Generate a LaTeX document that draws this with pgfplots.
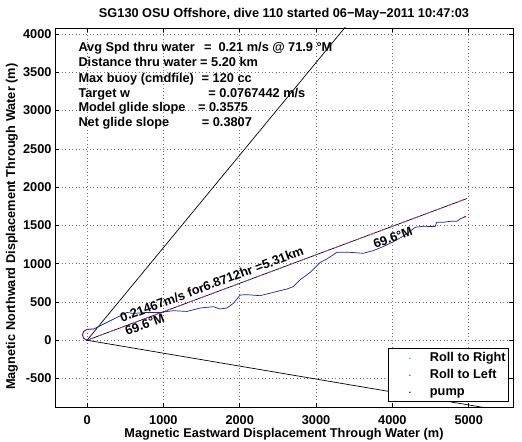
\documentclass[border=0pt]{standalone}
\usepackage{pgfplots}
\pgfplotsset{compat=1.18}
\usepackage{fontspec}
\setmainfont{Liberation Sans}
\definecolor{trackblue}{RGB}{25,35,160}
\definecolor{mag}{RGB}{205,50,205}
\definecolor{loopc}{RGB}{120,20,140}
\newcommand{\ff}{\fontsize{12.8}{15}\selectfont\bfseries}
\begin{document}
\begin{tikzpicture}
\begin{axis}[
  scale only axis, width=458bp, height=379bp,
  xmin=-420, xmax=5580, ymin=-872, ymax=4078,
  xtick={0,1000,2000,3000,4000,5000},
  ytick={-500,0,500,1000,1500,2000,2500,3000,3500,4000},
  grid=major,
  major grid style={black!55, line width=0.5bp, dash pattern=on 0.7bp off 2.8bp},
  tick align=inside, tick pos=both, major tick length=4.5bp,
  axis line style={line width=0.8bp},
  every tick/.style={black, line width=0.6bp},
  font=\ff,
  tick label style={font=\ff},
  xticklabel style={yshift=-5bp},
  /pgf/number format/assume math mode=true,
  /pgf/number format/1000 sep={},
  title={SG130 OSU Offshore, dive 110 started 06−May−2011 10:47:03},
  every axis title/.style={at={(axis description cs:0.5,1)}, anchor=base, yshift=10.5bp, font=\ff},
  xlabel={Magnetic Eastward Displacement Through Water (m)},
  xlabel style={at={(axis description cs:0.5,0)}, anchor=base, yshift=-30bp, font=\ff},
  ylabel={Magnetic Northward Displacement Through Water (m)},
  ylabel style={at={(axis description cs:-0.0873,0.4757)}, anchor=base, font=\ff},
  legend style={at={(axis description cs:0.9913,0.0132)}, anchor=south east,
    font=\ff, draw=black, line width=0.6bp, row sep=4.5bp, inner xsep=3bp, inner ysep=3.2bp,
    nodes={inner sep=0bp, text height=9.5bp, text depth=3bp}},
  legend image code/.code={\path[draw=none, fill=none] (0bp,0bp) -- (39bp,0bp);
     \path[draw=none, fill=#1] (19bp,0bp) circle[radius=0.75bp];},
  legend cell align=left,
]
\addlegendimage{green!80!black}
\addlegendimage{red}
\addlegendimage{black}
\addplot[black, line width=0.7bp, forget plot] coordinates {(0,0) (3824,4623)};
\addplot[black, line width=0.7bp, forget plot] coordinates {(0,0) (5916,-1000)};
\addplot[black, line width=0.7bp, forget plot] coordinates {(0,0) (4977,1851)};
\addplot[mag, line width=0.7bp, dash pattern=on 6bp off 6bp, forget plot] coordinates {(0,0) (4977,1851)};
\addplot[loopc, line width=1bp, forget plot] coordinates {
 (0,0) (-45,25) (-60,70) (-45,115) (-5,140) (40,145) (86,146)};
\addplot[trackblue, line width=0.7bp, forget plot] coordinates {
 (86,146) (174,190) (305,255) (436,320) (524,363) (606,350) (785,363) (960,363)
 (1130,386) (1309,376) (1483,421) (1653,438) (1745,408) (1832,421) (1915,481)
 (2007,591) (2094,595) (2267,582) (2439,625) (2618,669) (2700,699) (2792,790)
 (2923,886) (3054,1017) (3141,1061) (3272,1148) (3446,1148) (3617,1135)
 (3747,1170) (3878,1222) (4058,1310) (4188,1388) (4297,1475) (4402,1488)
 (4559,1484) (4581,1540) (4664,1540) (4755,1553) (4843,1553) (4886,1584) (4952,1614)};
\addplot[only marks, mark=*, mark size=0.7bp, red, forget plot] coordinates {(4952,1614)};
\addplot[only marks, mark=*, mark size=0.5bp, black, forget plot] coordinates {(0,0)};
\legend{Roll to Right, Roll to Left, pump}
% rotated annotations
\node[anchor=base west, inner sep=0, rotate=20.4, font=\ff] at (axis cs:458,233) {0.21467m/s for6.8712hr =5.31km};
\node[anchor=base west, inner sep=0, rotate=20.4, font=\ff] at (axis cs:524,59) {69.6°M};
\node[anchor=base west, inner sep=0, rotate=20.4, font=\ff] at (axis cs:3774,1192) {69.6°M};
% stats text
\node[anchor=base west, inner sep=0, font=\ff] at (axis description cs:0.0509,0.9385) {Avg Spd thru water};
\node[anchor=base west, inner sep=0, font=\ff] at (axis description cs:0.3253,0.9385) {=};
\node[anchor=base west, inner sep=0, font=\ff] at (axis description cs:0.3566,0.9385) {0.21 m/s @};
\node[anchor=base west, inner sep=0, font=\ff] at (axis description cs:0.5087,0.9385) {71.9 °M};
\node[anchor=base west, inner sep=0, font=\ff] at (axis description cs:0.0509,0.8989) {Distance thru water};
\node[anchor=base west, inner sep=0, font=\ff] at (axis description cs:0.3166,0.8989) {= 5.20 km};
\node[anchor=base west, inner sep=0, font=\ff] at (axis description cs:0.0509,0.8575) {Max buoy (cmdfile)};
\node[anchor=base west, inner sep=0, font=\ff] at (axis description cs:0.3199,0.8575) {= 120 cc};
\node[anchor=base west, inner sep=0, font=\ff] at (axis description cs:0.0509,0.8179) {Target w};
\node[anchor=base west, inner sep=0, font=\ff] at (axis description cs:0.3347,0.8179) {= 0.0767442 m/s};
\node[anchor=base west, inner sep=0, font=\ff] at (axis description cs:0.0509,0.7784) {Model glide slope};
\node[anchor=base west, inner sep=0, font=\ff] at (axis description cs:0.3120,0.7784) {= 0.3575};
\node[anchor=base west, inner sep=0, font=\ff] at (axis description cs:0.0509,0.7406) {Net glide slope};
\node[anchor=base west, inner sep=0, font=\ff] at (axis description cs:0.3203,0.7406) {= 0.3807};
\coordinate (sw) at (rel axis cs:0,0);
\coordinate (ne) at (rel axis cs:1,1);
\end{axis}
\pgfresetboundingbox
\path[use as bounding box] ([shift={(-55bp,-35bp)}]sw) rectangle ([shift={(9bp,28bp)}]ne);
\end{tikzpicture}
\end{document}
